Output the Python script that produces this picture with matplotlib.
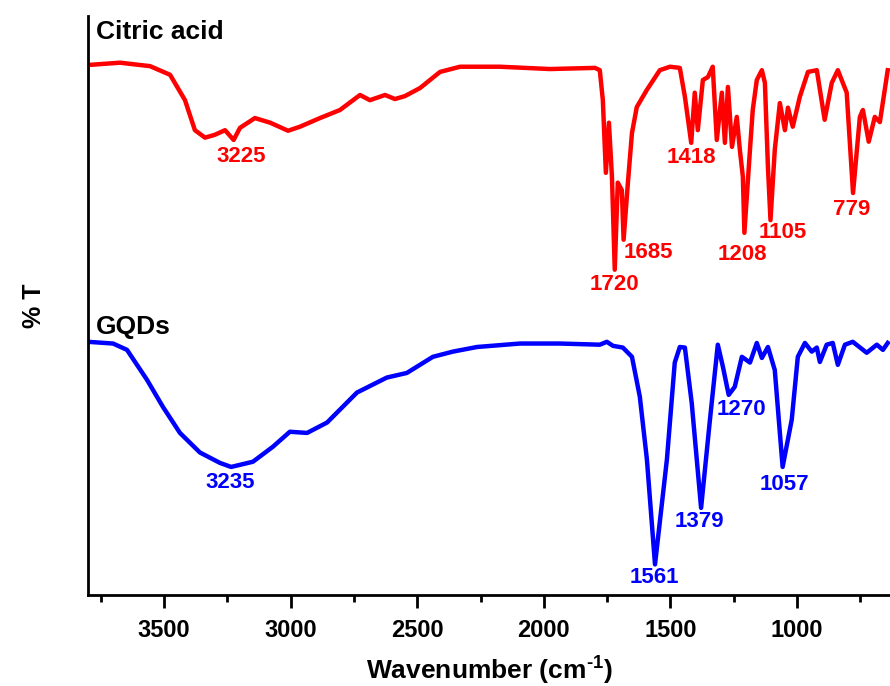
import matplotlib
matplotlib.use("Agg")
import matplotlib.pyplot as plt

plt.rcParams['font.family'] = ['Liberation Sans', 'DejaVu Sans']
plt.rcParams['font.weight'] = 'bold'
plt.rcParams['mathtext.fontset'] = 'custom'
plt.rcParams['mathtext.rm'] = 'Liberation Sans:bold'
plt.rcParams['mathtext.bf'] = 'Liberation Sans:bold'

# FTIR spectra, wavenumber (cm-1) vs. transmittance (arb. units, offset)
ca_wn = [3800, 3674, 3555, 3476, 3417, 3378, 3338, 3299, 3259, 3225, 3200, 3141,
         3081, 3010, 2963, 2884, 2805, 2726, 2687, 2627, 2588, 2549, 2489, 2410,
         2331, 2173, 1976, 1798, 1779, 1767, 1755, 1743, 1731, 1720, 1708, 1692,
         1685, 1668, 1652, 1633, 1593, 1542, 1502, 1463, 1443, 1418, 1404, 1392,
         1372, 1352, 1333, 1317, 1297, 1285, 1273, 1257, 1238, 1226, 1214, 1208,
         1186, 1175, 1159, 1139, 1127, 1115, 1105, 1088, 1068, 1048, 1036, 1017,
         989, 957, 922, 891, 863, 839, 804, 779, 752, 740, 717, 693, 673, 642]
ca_t = [91.5, 91.9, 91.3, 89.8, 85.4, 80.2, 78.9, 79.4, 80.2, 78.5, 80.6, 82.3,
        81.5, 80.1, 80.8, 82.3, 83.7, 86.3, 85.4, 86.3, 85.6, 86.1, 87.5, 90.3,
        91.2, 91.2, 90.8, 91.0, 90.6, 85.4, 72.8, 81.5, 72.1, 56.0, 71.1, 69.8,
        61.2, 71.1, 79.7, 84.2, 87.2, 90.6, 91.2, 91.0, 86.0, 78.0, 86.7, 80.2,
        88.9, 89.4, 91.2, 78.5, 86.7, 78.0, 87.7, 77.3, 82.5, 76.8, 72.1, 62.4,
        76.8, 83.7, 88.9, 90.6, 88.4, 73.8, 64.6, 76.8, 84.9, 80.2, 84.1, 80.8,
        86.0, 90.3, 90.6, 82.0, 88.4, 90.6, 86.7, 69.3, 82.5, 83.7, 78.2, 82.5,
        81.6, 90.6]

gqd_wn = [3800, 3701, 3646, 3567, 3504, 3437, 3358, 3279, 3235, 3149, 3070, 3003,
          2935, 2856, 2738, 2620, 2541, 2438, 2359, 2264, 2094, 1937, 1779, 1751,
          1727, 1688, 1652, 1621, 1593, 1561, 1514, 1483, 1463, 1443, 1416, 1379,
          1344, 1313, 1293, 1270, 1246, 1218, 1186, 1159, 1139, 1115, 1088, 1057,
          1021, 997, 969, 942, 922, 910, 883, 859, 839, 811, 780, 725, 685, 661, 642]
gqd_t = [43.5, 43.2, 42.1, 36.9, 32.2, 27.7, 24.3, 22.5, 21.8, 22.7, 25.3, 27.9,
         27.7, 29.5, 34.7, 37.3, 38.1, 40.9, 41.8, 42.6, 43.2, 43.2, 43.0, 43.5,
         42.8, 42.5, 40.9, 34.0, 23.1, 4.9, 23.1, 39.9, 42.6, 42.5, 32.9, 14.7,
         30.0, 43.0, 39.2, 34.3, 35.7, 40.9, 39.9, 43.3, 40.7, 42.6, 38.6, 21.8,
         30.0, 40.9, 43.3, 41.8, 42.5, 40.0, 43.0, 43.3, 39.5, 43.0, 43.5, 41.6,
         43.0, 42.1, 43.3]

# peak labels: text, x, y
ca_peaks = [("3225", 3196, 75.6), ("1720", 1720, 53.4), ("1685", 1589, 58.9),
            ("1418", 1416, 75.4), ("1208", 1214, 58.6), ("1105", 1056, 62.4),
            ("779", 784, 66.4)]
gqd_peaks = [("3235", 3239, 19.1), ("1561", 1562, 2.6), ("1379", 1384, 12.3),
             ("1270", 1218, 31.7), ("1057", 1048, 18.7)]

fig = plt.figure(figsize=(8.9, 6.86), dpi=100)
ax = fig.add_axes([0.0989, 0.1327, 0.9011, 0.844])

ax.plot(ca_wn, ca_t, color='#ff0000', lw=3.2, solid_joinstyle='round')
ax.plot(gqd_wn, gqd_t, color='#0000ff', lw=3.2, solid_joinstyle='round')

for txt, x, y in ca_peaks:
    ax.text(x, y, txt, color='#ff0000', fontsize=16, fontweight='bold',
            ha='center', va='center')
for txt, x, y in gqd_peaks:
    ax.text(x, y, txt, color='#0000ff', fontsize=16, fontweight='bold',
            ha='center', va='center')

ax.text(0.01, 0.972, "Citric acid", transform=ax.transAxes, fontsize=19,
        fontweight='bold', ha='left', va='center')
ax.text(0.01, 0.463, "GQDs", transform=ax.transAxes, fontsize=19,
        fontweight='bold', ha='left', va='center')

ax.set_xlim(3800, 633)
ax.set_ylim(-0.4, 100)
ax.set_xticks([3500, 3000, 2500, 2000, 1500, 1000])
ax.set_xticks([3750, 3250, 2750, 2250, 1750, 1250, 750], minor=True)
ax.set_yticks([])
ax.spines['top'].set_visible(False)
ax.spines['right'].set_visible(False)
ax.spines['left'].set_linewidth(2)
ax.spines['bottom'].set_linewidth(2)
ax.tick_params(axis='x', which='major', length=9, width=2, labelsize=17, pad=8)
ax.tick_params(axis='x', which='minor', length=5, width=2)

ax.set_xlabel("Wavenumber (cm$^{\\text{-1}}$)", fontsize=19, fontweight='bold',
              labelpad=8)
ax.set_ylabel("% T", fontsize=18, fontweight='bold', labelpad=30)

fig.savefig("out.png", dpi=100)
